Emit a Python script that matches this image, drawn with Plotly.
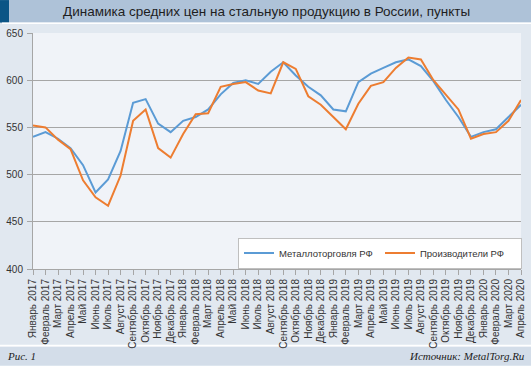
import plotly.graph_objects as go

months = ["Январь", "Февраль", "Март", "Апрель", "Май", "Июнь", "Июль", "Август",
          "Сентябрь", "Октябрь", "Ноябрь", "Декабрь"]
categories = [f"{m} {y}" for y in (2017, 2018, 2019) for m in months] + \
             [f"{m} 2020" for m in months[:4]]

metalltorg = [540, 545, 538, 528, 510, 481, 495, 525, 576, 580, 554, 545,
              557, 561, 569, 585, 597, 600, 596, 609, 619, 605, 593, 584,
              569, 567, 598, 607, 613, 619, 622, 615, 599, 579, 561, 540,
              545, 548, 561, 574]
producers = [552, 550, 537, 527, 494, 476, 467, 499, 557, 569, 528, 518,
             543, 564, 565, 593, 596, 598, 589, 586, 619, 612, 583, 574,
             561, 548, 575, 594, 598, 613, 624, 622, 600, 585, 569, 538,
             543, 545, 557, 579]

series_names = ["Металлоторговля РФ", "Производители РФ"]
y_ticks = [400, 450, 500, 550, 600, 650]

W, H = 531, 366
ML, MR, MT, MB = 33, 10, 33, 96.5
PW = W - ML - MR
PH = H - MT - MB


def px2x(px):
    return (px - ML) / PW


def py2y(py):
    return (H - MB - py) / PH


fig = go.Figure()
fig.add_trace(go.Scatter(x=categories, y=metalltorg, mode="lines", name=series_names[0],
                         line=dict(color="#5b9bd5", width=2)))
fig.add_trace(go.Scatter(x=categories, y=producers, mode="lines", name=series_names[1],
                         line=dict(color="#ed7d31", width=2)))

shapes = [
    dict(type="rect", xref="paper", yref="paper", x0=px2x(0), x1=px2x(W), y0=py2y(22.5), y1=py2y(0),
         fillcolor="#aec2d8", line=dict(width=0), layer="below"),
    dict(type="rect", xref="paper", yref="paper", x0=px2x(0), x1=px2x(9), y0=py2y(22.5), y1=py2y(0),
         fillcolor="#0b5586", line=dict(width=0), layer="below"),
    dict(type="rect", xref="paper", yref="paper", x0=px2x(2), x1=px2x(W), y0=py2y(24), y1=py2y(22.5),
         fillcolor="#ffffff", line=dict(width=0), layer="below"),
    dict(type="rect", xref="paper", yref="paper", x0=px2x(0), x1=px2x(W), y0=py2y(347.5), y1=py2y(345.5),
         fillcolor="#ffffff", line=dict(width=0), layer="below"),
    dict(type="rect", xref="paper", yref="paper", x0=px2x(0), x1=px2x(W), y0=py2y(H), y1=py2y(347.5),
         fillcolor="#d3dde9", line=dict(width=0), layer="below"),
]

annotations = [
    dict(text="Динамика средних цен на стальную продукцию в России, пункты",
         xref="paper", yref="paper", x=px2x(266), y=py2y(11.5), xanchor="center", yanchor="middle",
         showarrow=False, font=dict(family="Liberation Sans, Arial", size=13.5, color="#1e1e1e")),
    dict(text="<i>Рис. 1</i>", xref="paper", yref="paper", x=px2x(5), y=py2y(357),
         xanchor="left", yanchor="middle", showarrow=False,
         font=dict(family="Liberation Serif, Times New Roman", size=11, color="#222222")),
    dict(text="<i>Источник: MetalTorg.Ru</i>", xref="paper", yref="paper", x=px2x(527), y=py2y(357),
         xanchor="right", yanchor="middle", showarrow=False,
         font=dict(family="Liberation Serif, Times New Roman", size=11, color="#222222")),
]

fig.update_layout(
    width=W, height=H,
    margin=dict(l=ML, r=MR, t=MT, b=MB, pad=0, autoexpand=False),
    paper_bgcolor="#e1e8f0",
    plot_bgcolor="#f0f3f8",
    font=dict(family="Liberation Sans, Arial", size=10, color="#333333"),
    showlegend=True,
    legend=dict(orientation="h", x=px2x(238), y=py2y(238), xanchor="left", yanchor="top",
                bgcolor="#ffffff", bordercolor="#bfbfbf", borderwidth=1,
                font=dict(size=9.5, color="#333333"), itemwidth=30,
                entrywidth=96, entrywidthmode="pixels", tracegroupgap=0),
    shapes=shapes,
    annotations=annotations,
    xaxis=dict(type="category", range=[0, len(categories) - 1], tickangle=-90,
               ticks="outside", ticklen=5, tickcolor="#a6a6a6", showgrid=False,
               showline=True, linecolor="#a6a6a6", linewidth=1, automargin=False,
               tickfont=dict(size=10, color="#333333"), fixedrange=True),
    yaxis=dict(range=[400, 650], tickvals=y_ticks, ticks="outside", ticklen=5,
               tickcolor="#a6a6a6", showgrid=True, gridcolor="#a6a6a6", gridwidth=1,
               showline=True, linecolor="#a6a6a6", linewidth=1, zeroline=False,
               automargin=False,
               tickfont=dict(size=10, color="#333333"), ticklabelstandoff=2),
)

fig.write_html("out.html", config={"displayModeBar": False},
               post_script="document.body.style.margin='0';document.body.style.overflow='hidden';")
